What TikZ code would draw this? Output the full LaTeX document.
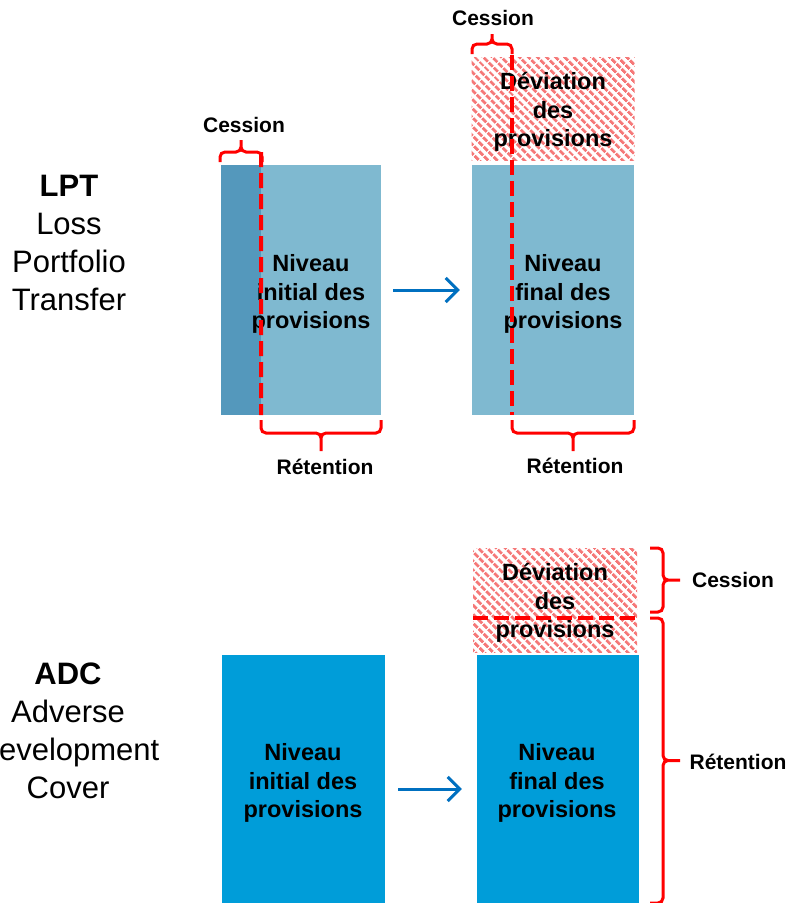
\documentclass[tikz,border=0pt]{standalone}
\usepackage{fontspec}
\setmainfont{Liberation Sans}
\usetikzlibrary{
  arrows.meta, positioning, calc, patterns.meta
}
\definecolor{lptblue}{RGB}{127, 185, 208}
\definecolor{lptdark}{RGB}{84, 152, 188}
\definecolor{adcblue}{RGB}{0, 157, 217}
\definecolor{flowblue}{RGB}{0, 112, 192}
\definecolor{cutred}{RGB}{255, 0, 0}
\definecolor{hatchred}{RGB}{245, 120, 120}

\begin{document}
\begin{tikzpicture}[
        x=1pt, y=-1pt,
        block/.style={draw=none, inner sep=0pt, minimum width=162pt,
                      minimum height=250pt},
        devbox/.style={draw=none, inner sep=0pt, minimum width=163pt,
                       minimum height=103pt, pattern color=hatchred,
                       pattern={Lines[angle=-45, distance=6.5pt, line width=3.2pt]}},
        boxtext/.style={align=center, inner sep=0pt,
                        font=\fontsize{23.5}{28.5}\selectfont\bfseries},
        sidetext/.style={align=center, inner sep=0pt,
                         font=\fontsize{31}{38}\selectfont},
        tag/.style={inner sep=0pt, font=\fontsize{21}{25}\selectfont\bfseries},
        cut/.style={draw=cutred, line width=4pt, dash pattern=on 15pt off 6pt},
        bracket/.style 2 args={draw=cutred, line width=3pt, rounded corners=5pt,
          to path={
            -- ($(\tikztostart)!#1!90:(\tikztotarget)$)
            -- ($(\tikztostart)!0.5!(\tikztotarget)!#1!90:(\tikztotarget)$)
            -- ($(\tikztostart)!0.5!(\tikztotarget)!#2!90:(\tikztotarget)$)
            (\tikztotarget) -- ($(\tikztotarget)!#1!-90:(\tikztostart)$)
            -- ($(\tikztostart)!0.5!(\tikztotarget)!#1!90:(\tikztotarget)$)
            -- ($(\tikztostart)!0.5!(\tikztotarget)!#2!90:(\tikztotarget)$)
          }},
        flow/.style={-{Straight Barb[length=12pt, width=24pt]},
                     line width=3pt, flowblue},
      ]
        \useasboundingbox (0,0) rectangle (786,903);

        % LPT
        \node[sidetext] (lptname) at (69,243)
          {\textbf{LPT}\\Loss\\Portfolio\\Transfer};

        \node[block, fill=lptblue, minimum width=160pt] (lptinit) at (301,290) {};
        \node[block, fill=lptdark, minimum width=40pt] (lptced) at (241,290) {};
        \node[boxtext] (lptinittxt) at (311,294) {Niveau\\initial des\\provisions};

        \node[devbox] (lptdev) at (553,108.5) {};
        \node[block, fill=lptblue] (lptfin) at (553,290) {};
        \node[boxtext] (lptdevtxt) at (553,112) {Déviation\\des\\provisions};
        \node[boxtext] (lptfintxt) at (563,294) {Niveau\\final des\\provisions};

        \draw[flow, shorten <=12pt, shorten >=12pt] (lptinit) -- (lptfin);

        \draw[cut] (261,152) -- (lptced.south east);
        \draw[cut] (512,55) -- (512,415);

        \draw[bracket={10pt}{22pt}] (220,162) to (262,162);
        \node[tag] (lptcess) at (244,125) {Cession};
        \draw[bracket={10pt}{20pt}] (472,54) to (512,54);
        \node[tag] (lptcessfin) at (493,18) {Cession};

        \draw[bracket={13pt}{31pt}] (381,420) to (261,420);
        \node[tag] (lptret) at (325,467) {Rétention};
        \draw[bracket={13pt}{31pt}] (634,420) to (512,420);
        \node[tag] (lptretfin) at (575,466) {Rétention};

        % ADC
        \node[sidetext] (adcname) at (68,731)
          {\textbf{ADC}\\Adverse\\Development\\Cover};

        \node[block, fill=adcblue, minimum width=163pt, minimum height=248pt]
          (adcinit) at (303.5,779) {};
        \node[boxtext] (adcinittxt) at (303,783) {Niveau\\initial des\\provisions};

        \node[devbox, minimum width=164pt, minimum height=104pt] (adcdev) at (555,600) {};
        \node[block, fill=adcblue, minimum height=248pt] (adcfin) at (558,779) {};
        \node[boxtext] (adcdevtxt) at (555,603) {Déviation\\des\\provisions};
        \node[boxtext] (adcfintxt) at (557,783) {Niveau\\final des\\provisions};

        \draw[flow, shorten <=13pt, shorten >=15pt]
          ([yshift=-10pt]adcinit.east) -- ([yshift=-10pt]adcfin.west);

        \draw[cut] (473,618) -- (637,618);

        \draw[bracket={13pt}{30pt}] (650,548) to (650,612);
        \node[tag] (adccess) at (733,580) {Cession};
        \draw[bracket={13pt}{30pt}] (650,618) to (650,903);
        \node[tag] (adcret) at (738,762) {Rétention};
      \end{tikzpicture}
\end{document}
